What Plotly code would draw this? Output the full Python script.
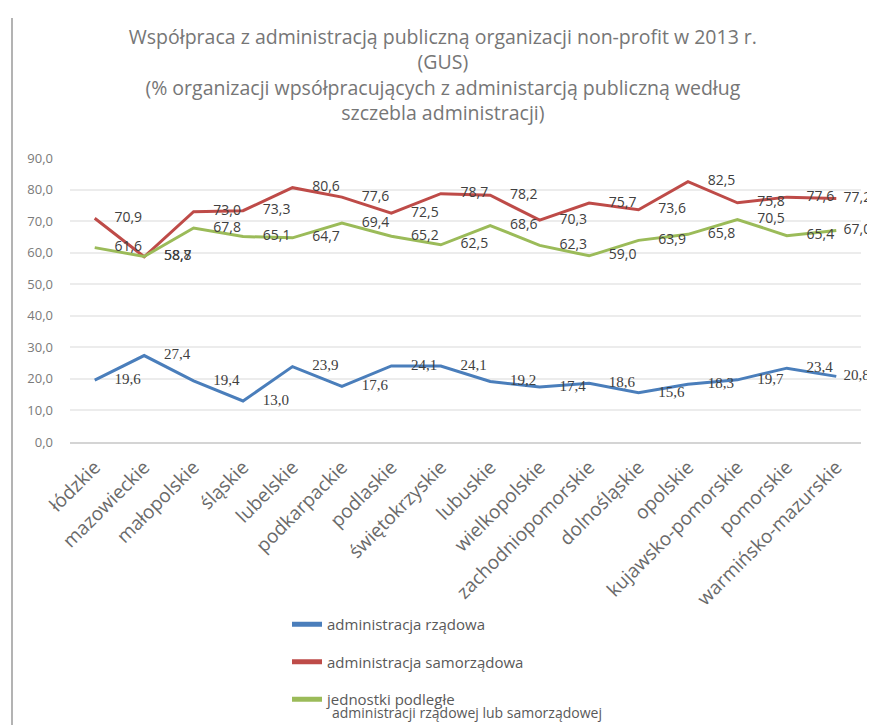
import plotly.graph_objects as go

categories = ["łódzkie", "mazowieckie", "małopolskie", "śląskie", "lubelskie",
              "podkarpackie", "podlaskie", "świętokrzyskie", "lubuskie",
              "wielkopolskie", "zachodniopomorskie", "dolnośląskie", "opolskie",
              "kujawsko-pomorskie", "pomorskie", "warmińsko-mazurskie"]

rzadowa = [19.6, 27.4, 19.4, 13.0, 23.9, 17.6, 24.1, 24.1, 19.2, 17.4, 18.6,
           15.6, 18.3, 19.7, 23.4, 20.8]
samorzadowa = [70.9, 58.7, 73.0, 73.3, 80.6, 77.6, 72.5, 78.7, 78.2, 70.3, 75.7,
               73.6, 82.5, 75.8, 77.6, 77.2]
podlegle = [61.6, 58.8, 67.8, 65.1, 64.7, 69.4, 65.2, 62.5, 68.6, 62.3, 59.0,
            63.9, 65.8, 70.5, 65.4, 67.0]

series_names = ["administracja rządowa", "administracja samorządowa", "jednostki podległe"]
legend_second_line = "administracji rządowej lub samorządowej"
colors = ["#4a7ebb", "#be4b48", "#9bbb59"]

title_lines = ["Współpraca z administracją publiczną organizacji non-profit w 2013 r.",
               "(GUS)",
               "(% organizacji wpsółpracujących z administarcją publiczną według",
               "szczebla administracji)"]

y_ticks = [0, 10, 20, 30, 40, 50, 60, 70, 80, 90]


def fmt(v):
    return f"{v:.1f}".replace(".", ",")


# invisible marker sizes only control the label offset (last labels nudged in)
label_offset_sizes = [30] * (len(categories) - 1) + [10]

fig = go.Figure()
label_fonts = [dict(family="Liberation Serif", size=15, color="#404040"),
               dict(family="Open Sans", size=14, color="#404040"),
               dict(family="Open Sans", size=14, color="#404040")]
for i, vals in enumerate([rzadowa, samorzadowa, podlegle]):
    fig.add_trace(go.Scatter(
        x=categories, y=vals, name=series_names[i], legendgroup=f"g{i}",
        mode="lines+markers+text",
        line=dict(color=colors[i], width=3),
        marker=dict(size=label_offset_sizes, opacity=0, color="rgba(0,0,0,0)",
                    line=dict(width=0)),
        text=[fmt(v) for v in vals], textposition="middle right",
        textfont=label_fonts[i], cliponaxis=False, hoverinfo="skip",
    ))

W, H = 875, 725
L, R, T, B = 62, 22, 150, 291
pw, ph = W - L - R, H - T - B


def px_x(x):
    return (x - L) / pw


def px_y(y):
    return (H - B - y) / ph


fig.update_layout(
    width=W, height=H,
    margin=dict(l=L, r=R, t=T, b=B, autoexpand=False),
    paper_bgcolor="white", plot_bgcolor="white",
    separators=", ",
    title=dict(text="<br>".join(title_lines), x=0.497, xanchor="center",
               y=1 - 36 / H, yanchor="top", yref="container",
               font=dict(family="Open Sans", size=19.5, color="#767676")),
    showlegend=True,
    legend=dict(x=px_x(279), y=px_y(600), xanchor="left", yanchor="top",
                orientation="v", tracegroupgap=15, bgcolor="rgba(0,0,0,0)",
                itemsizing="constant",
                font=dict(family="Open Sans", size=15, color="#595959")),
    xaxis=dict(type="category", range=[-0.5, len(categories) - 0.5],
               tickangle=-45, showgrid=False, ticklabelstandoff=5,
               showline=True, linecolor="#d4d4d4", linewidth=1.5, ticks="",
               tickfont=dict(family="Open Sans", size=19, color="#6a6a6a")),
    yaxis=dict(range=[0, 90], tickvals=y_ticks, tickformat=".1f",
               showgrid=True, gridcolor="#ececec", gridwidth=1.5,
               zeroline=False, showline=False, ticklabelstandoff=16,
               tickfont=dict(family="Open Sans", size=13, color="#7a7a7a")),
    annotations=[dict(text=legend_second_line, xref="paper", yref="paper",
                      x=px_x(322), y=px_y(704), xanchor="left", yanchor="middle",
                      showarrow=False,
                      font=dict(family="Open Sans", size=14, color="#595959"))],
    shapes=[dict(type="line", xref="paper", yref="paper",
                 x0=px_x(4), x1=px_x(4), y0=px_y(10), y1=px_y(H),
                 line=dict(color="#b3b3b3", width=2))],
)

fig.write_html("out.html")
